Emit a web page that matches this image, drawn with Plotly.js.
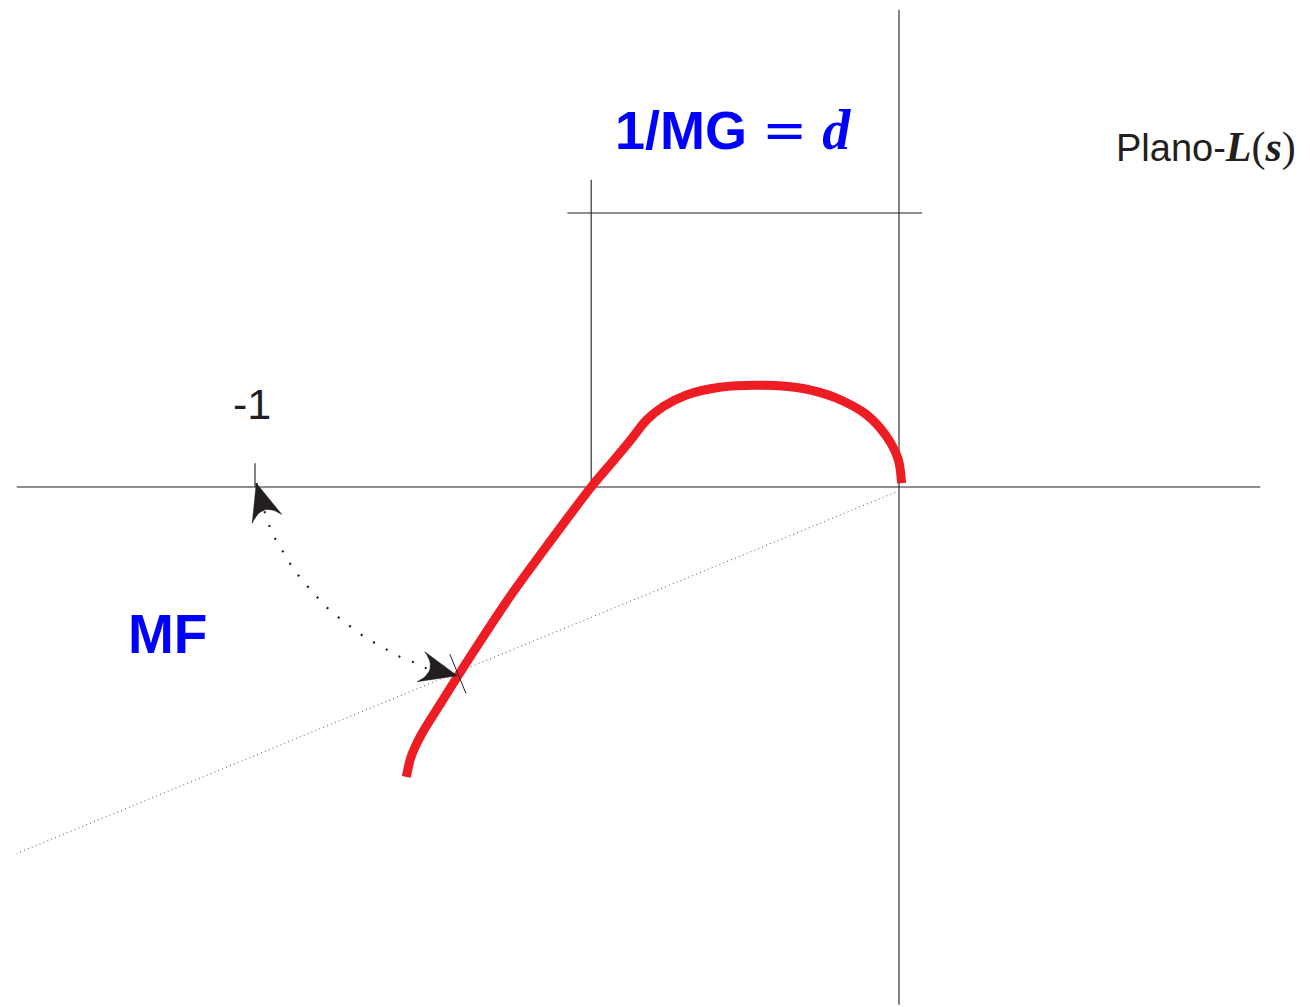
<!DOCTYPE html>
<html>
<head>
<meta charset="utf-8">
<script src="https://cdn.plot.ly/plotly-3.0.1.min.js"></script>
<style>
  html, body { margin: 0; padding: 0; background: #ffffff; }
  #chart { width: 1310px; height: 1007px; }
</style>
</head>
<body>
<div id="chart"></div>
<script>
// Nyquist sketch of L(jw) in the L(s)-plane: gain margin (1/MG = d) and phase margin (MF).

// Nyquist locus L(jw), real and imaginary parts
const nyquistRe = [0.004, -0.001, -0.019, -0.050, -0.097, -0.149, -0.211, -0.278, -0.330, -0.366, -0.392, -0.419, -0.445, -0.478, -0.542, -0.604, -0.661, -0.708, -0.742, -0.758, -0.765];
const nyquistIm = [0.006, 0.042, 0.078, 0.112, 0.138, 0.153, 0.158, 0.155, 0.143, 0.125, 0.104, 0.070, 0.039, 0.000, -0.085, -0.170, -0.256, -0.330, -0.385, -0.420, -0.450];

// Real-axis crossing of the locus: -d, with 1/MG = d
const gainMarginD = 0.478;

// Critical point
const criticalRe = -1;

// Ray from the origin through the unit-circle crossing (phase margin line)
const pmRayRe = [0.000, -1.370];
const pmRayIm = [-0.006, -0.569];

// Crossing of the locus with the phase-margin ray
const pmCrossRe = -0.685;
const pmCrossIm = -0.290;

// Arc showing the phase margin, from -1 to the crossing
const pmArcRe = [-0.998, -0.980, -0.971, -0.958, -0.946, -0.932, -0.916, -0.899, -0.882, -0.863, -0.845, -0.825, -0.803, -0.781, -0.758, -0.738, -0.686];
const pmArcIm = [0.006, -0.054, -0.076, -0.098, -0.118, -0.138, -0.157, -0.176, -0.193, -0.208, -0.222, -0.236, -0.248, -0.261, -0.270, -0.280, -0.293];

// Axis extents of the drawn real and imaginary axes
const realAxisRe = [-1.370, 0.561];
const imagAxisIm = [0.741, -0.804];

// Labels
const serif = 'font-family:\'Liberation Serif\'';
const labelCritical = '-1';
const labelGM = '<b>1/MG</b> <span style="font-family:\'DejaVu Serif\'">=</span> <b><i><span style="' + serif + ';font-size:56px">d</span></i></b>';
const labelPM = '<b>MF</b>';
const labelPlane = 'Plano-<b><i><span style="' + serif + ';font-size:42px">L</span></i></b><span style="' + serif + ';font-size:42px">(</span><b><i><span style="' + serif + ';font-size:42px">s</span></i></b><span style="' + serif + ';font-size:42px">)</span>';

const ink = '#231f20';
const red = '#ee1d24';
const blue = '#0000ff';

function seg(x, y, opts) {
  return Object.assign({
    type: 'scatter', mode: 'lines', x: x, y: y,
    hoverinfo: 'skip', showlegend: false,
    line: { color: ink, width: 1.1 }
  }, opts || {});
}

// Filled arrowhead with a concave back, pointing from (fx,fy) to the tip
function arrowHead(tx, ty, fx, fy) {
  const dx = tx - fx, dy = ty - fy;
  const len = Math.hypot(dx, dy);
  const ux = dx / len, uy = dy / len;
  const nx = -uy, ny = ux;
  const L = 0.058, W = 0.024;
  const c1x = tx - L * ux + W * nx, c1y = ty - L * uy + W * ny;
  const c2x = tx - L * ux - W * nx, c2y = ty - L * uy - W * ny;
  const kx = tx - 0.5 * L * ux, ky = ty - 0.5 * L * uy;
  const xs = [tx, c1x], ys = [ty, c1y];
  for (let i = 1; i < 12; i++) {
    const t = i / 12;
    xs.push((1 - t) * (1 - t) * c1x + 2 * t * (1 - t) * kx + t * t * c2x);
    ys.push((1 - t) * (1 - t) * c1y + 2 * t * (1 - t) * ky + t * t * c2y);
  }
  xs.push(c2x, tx); ys.push(c2y, ty);
  return seg(xs, ys, { fill: 'toself', fillcolor: ink, line: { color: ink, width: 0.5 } });
}

// Short tick across the locus, perpendicular to the phase-margin ray
const rayDx = pmRayRe[1] - pmRayRe[0], rayDy = pmRayIm[1] - pmRayIm[0];
const rayLen = Math.hypot(rayDx, rayDy);
const perpX = -rayDy / rayLen, perpY = rayDx / rayLen;
const tickHalf = 0.033;

const n = pmArcRe.length;
const traces = [
  // real and imaginary axes
  seg(realAxisRe, [0, 0]),
  seg([0, 0], imagAxisIm),
  // tick at -1
  seg([criticalRe, criticalRe], [0.037, 0]),
  // vertical at -d and dimension line above
  seg([-gainMarginD, -gainMarginD], [0.477, -0.006]),
  seg([-gainMarginD - 0.037, 0.036], [0.4255, 0.4255]),
  // phase-margin ray
  seg(pmRayRe, pmRayIm, { line: { color: '#555555', width: 1, dash: '1px,3.2px' } }),
  // Nyquist locus
  seg(nyquistRe, nyquistIm, { line: { color: red, width: 9, shape: 'spline', smoothing: 0.8 } }),
  // phase-margin arc
  seg(pmArcRe, pmArcIm, { line: { color: ink, width: 2.2, dash: '2px,12.5px', shape: 'spline' } }),
  arrowHead(pmArcRe[0], pmArcIm[0], pmArcRe[1], pmArcIm[1]),
  arrowHead(pmArcRe[n - 1], pmArcIm[n - 1], pmArcRe[n - 2], pmArcIm[n - 2]),
  // crossing tick
  seg([pmCrossRe + tickHalf * perpX, pmCrossRe - tickHalf * perpX],
      [pmCrossIm + tickHalf * perpY, pmCrossIm - tickHalf * perpY], { line: { color: ink, width: 1 } })
];

const px = 644; // pixels per unit
const layout = {
  width: 1310, height: 1007,
  margin: { l: 0, r: 0, t: 0, b: 0, pad: 0 },
  paper_bgcolor: '#ffffff', plot_bgcolor: '#ffffff',
  showlegend: false,
  xaxis: { range: [-899 / px, 411 / px], visible: false, fixedrange: true },
  yaxis: { range: [-520 / px, 487 / px], visible: false, fixedrange: true },
  annotations: [
    { x: criticalRe - 0.004, y: 0.129, xref: 'x', yref: 'y', text: labelCritical, showarrow: false,
      font: { family: 'Liberation Sans', size: 43, color: ink } },
    { x: -0.258, y: 0.553, xref: 'x', yref: 'y', text: labelGM, showarrow: false,
      font: { family: 'Liberation Sans', size: 54, color: blue } },
    { x: -1.136, y: -0.228, xref: 'x', yref: 'y', text: labelPM, showarrow: false,
      font: { family: 'Liberation Sans', size: 55, color: blue } },
    { x: 0.477, y: 0.527, xref: 'x', yref: 'y', text: labelPlane, showarrow: false,
      font: { family: 'Liberation Sans', size: 38, color: ink } }
  ]
};

Plotly.newPlot('chart', traces, layout, { staticPlot: true, displayModeBar: false });
</script>
</body>
</html>
